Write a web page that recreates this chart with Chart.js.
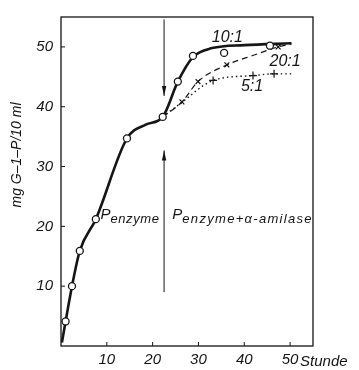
<!DOCTYPE html>
<html>
<head>
<meta charset="utf-8">
<script src="https://cdn.jsdelivr.net/npm/chart.js@4.4.1/dist/chart.umd.min.js"></script>
<style>
  html, body { margin: 0; padding: 0; background: #fff; }
</style>
</head>
<body>
<canvas id="myChart" width="359" height="370"></canvas>
<script>
const ctx = document.getElementById("myChart");

const xTicks = [10, 20, 30, 40, 50];
const yTicks = [10, 20, 30, 40, 50];

// measured points (circles = 10:1, x = 20:1, + = 5:1)
const enzymeX = [1.0, 2.4, 4.1, 7.6, 14.4, 22.2, 25.5, 28.8, 35.6, 45.6];
const enzymeY = [4.1, 10.0, 15.9, 21.2, 34.7, 38.3, 44.2, 48.5, 49.0, 50.2];
const ratio20X = [26.4, 29.9, 36.2, 47.4];
const ratio20Y = [40.8, 44.2, 47.0, 50.0];
const ratio5X = [33.2, 41.9, 46.5];
const ratio5Y = [44.4, 45.2, 45.5];

// hand drawn curves through the points
const curve10X = [0.2, 1.0, 2.4, 4.1, 7.6, 14.4, 18.5, 22.2, 25.5, 28.8, 33, 40, 50.3];
const curve10Y = [0.6, 4.1, 10.0, 15.9, 21.2, 34.7, 37.0, 38.3, 44.2, 48.3, 49.8, 50.3, 50.6];
const curve20X = [22.2, 26.4, 29.9, 36.2, 42, 47.4, 50.3];
const curve20Y = [38.3, 40.8, 44.2, 47.0, 48.6, 50.0, 50.5];
const curve5X = [22.2, 26, 33.2, 41.9, 46.5, 50.5];
const curve5Y = [38.3, 40.5, 44.4, 45.2, 45.5, 45.5];

// labels on the curves
const ratioLabels = ["10:1", "20:1", "5:1"];
const ratioLabelX = [36.3, 48.9, 41.7];
const ratioLabelY = [51.6, 47.6, 43.4];

// enzyme addition arrows
const arrowX = 22.5;
const arrowDown = [54.6, 41.8];
const arrowUp = [9.0, 32.7];

const phaseSubs = ["enzyme", "enzyme+α-amilase"];
const phaseX = [8.6, 24.3];
const phaseY = [21.9, 21.9];
const phaseSpacing = [0.6, 1.3];

const yTitle = "mg G–1–P/10 ml";

const toXY = (xs, ys) => xs.map((x, i) => ({ x: x, y: ys[i] }));
const ink = "#151515";
const italic = (size) => ({ family: "Liberation Sans", style: "italic", size: size });

const overlay = {
  id: "overlay",
  afterDatasetsDraw(chart) {
    const c = chart.ctx;
    const a = chart.chartArea;
    const xs = chart.scales.x;
    const ys = chart.scales.y;
    c.save();
    c.strokeStyle = ink;
    c.fillStyle = ink;

    // frame
    c.lineWidth = 1.3;
    c.strokeRect(a.left, a.top, a.right - a.left, a.bottom - a.top);

    // small inward ticks
    c.lineWidth = 1;
    xTicks.forEach((v) => {
      const px = xs.getPixelForValue(v);
      c.beginPath(); c.moveTo(px, a.bottom); c.lineTo(px, a.bottom - 4); c.stroke();
    });
    yTicks.forEach((v) => {
      const py = ys.getPixelForValue(v);
      c.beginPath(); c.moveTo(a.left, py); c.lineTo(a.left + 4, py); c.stroke();
    });

    // arrows
    const ax = xs.getPixelForValue(arrowX);
    [arrowDown, arrowUp].forEach((pair) => {
      const y1 = ys.getPixelForValue(pair[0]);
      const y2 = ys.getPixelForValue(pair[1]);
      const dir = y2 > y1 ? 1 : -1;
      c.lineWidth = 1;
      c.beginPath(); c.moveTo(ax, y1); c.lineTo(ax, y2); c.stroke();
      c.beginPath();
      c.moveTo(ax, y2);
      c.lineTo(ax - 2.2, y2 - dir * 10);
      c.lineTo(ax + 2.2, y2 - dir * 10);
      c.closePath(); c.fill();
    });

    // ratio labels
    c.font = "italic 16px 'Liberation Sans'";
    c.textAlign = "center";
    c.textBaseline = "middle";
    ratioLabels.forEach((t, i) => {
      c.fillText(t, xs.getPixelForValue(ratioLabelX[i]), ys.getPixelForValue(ratioLabelY[i]));
    });

    // P_enzyme labels
    c.textAlign = "left";
    c.textBaseline = "alphabetic";
    phaseSubs.forEach((s, i) => {
      const px = xs.getPixelForValue(phaseX[i]);
      const py = ys.getPixelForValue(phaseY[i]);
      c.letterSpacing = "0px";
      c.font = "italic 15px 'Liberation Sans'";
      c.fillText("P", px, py + 4);
      const w = c.measureText("P").width;
      c.font = "italic 13px 'Liberation Sans'";
      c.letterSpacing = phaseSpacing[i] + "px";
      c.fillText(s, px + w, py + 8);
    });
    c.letterSpacing = "0px";

    // unit after the last x tick
    c.font = "italic 15px 'Liberation Sans'";
    c.textBaseline = "middle";
    c.fillText("Stunde", xs.getPixelForValue(50) + 10, 362);

    // y axis title
    c.save();
    c.translate(17, 155);
    c.rotate(-Math.PI / 2);
    c.textAlign = "center";
    c.font = "italic 14px 'Liberation Sans'";
    c.fillText(yTitle, 0, 0);
    c.restore();

    c.restore();
  },
};

const data = {
  datasets: [
    {
      data: toXY(enzymeX, enzymeY),
      pointStyle: "circle",
      pointRadius: 3.5,
      backgroundColor: "#fff",
      borderColor: ink,
      borderWidth: 1.3,
      order: 0,
    },
    {
      data: toXY(ratio20X, ratio20Y),
      pointStyle: "crossRot",
      pointRadius: 3.4,
      borderColor: ink,
      borderWidth: 1.2,
      order: 0,
    },
    {
      data: toXY(ratio5X, ratio5Y),
      pointStyle: "cross",
      pointRadius: 4,
      borderColor: ink,
      borderWidth: 1.2,
      order: 0,
    },
    {
      data: toXY(curve10X, curve10Y),
      showLine: true,
      pointRadius: 0,
      borderColor: ink,
      borderWidth: 2.6,
      cubicInterpolationMode: "monotone",
      order: 1,
    },
    {
      data: toXY(curve20X, curve20Y),
      showLine: true,
      pointRadius: 0,
      borderColor: ink,
      borderWidth: 1.2,
      borderDash: [6, 4],
      cubicInterpolationMode: "monotone",
      order: 1,
    },
    {
      data: toXY(curve5X, curve5Y),
      showLine: true,
      pointRadius: 0,
      borderColor: ink,
      borderWidth: 1.4,
      borderDash: [1.5, 3],
      cubicInterpolationMode: "monotone",
      order: 1,
    },
  ],
};

const config = {
  type: "scatter",
  data: data,
  options: {
    responsive: false,
    animation: false,
    layout: { padding: { top: 11, right: 46, left: 0, bottom: 0 } },
    plugins: {
      legend: { display: false },
      tooltip: { enabled: false },
    },
    scales: {
      x: {
        min: 0,
        max: 55,
        afterBuildTicks: (s) => { s.ticks = xTicks.map((v) => ({ value: v })); },
        afterFit: (s) => { s.height = 24; },
        grid: { display: false, drawTicks: false },
        border: { display: false },
        ticks: { font: italic(15), color: ink, padding: 5, maxRotation: 0, autoSkip: false },
      },
      y: {
        min: 0,
        max: 55,
        afterBuildTicks: (s) => { s.ticks = yTicks.map((v) => ({ value: v })); },
        afterFit: (s) => { s.width = 61; },
        grid: { display: false, drawTicks: false },
        border: { display: false },
        ticks: { font: italic(15), color: ink, padding: 8 },
      },
    },
  },
  plugins: [overlay],
};

new Chart(ctx, config);
</script>
</body>
</html>
